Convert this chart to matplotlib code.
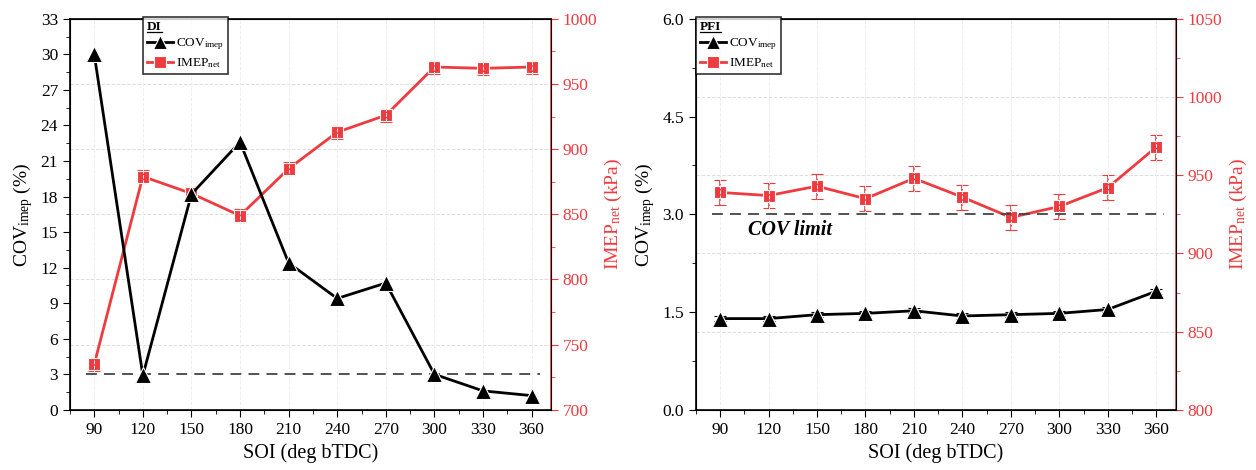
import numpy as np
import matplotlib.pyplot as plt
from matplotlib.ticker import MultipleLocator
from matplotlib.lines import Line2D

plt.rcParams['font.family'] = ['Liberation Serif', 'DejaVu Serif']
plt.rcParams['mathtext.fontset'] = 'custom'
plt.rcParams['mathtext.rm'] = 'Liberation Serif'
plt.rcParams['mathtext.it'] = 'Liberation Serif:italic'
plt.rcParams['mathtext.bf'] = 'Liberation Serif:bold'

RED = '#ee3b3f'

# угол начала впрыска
soi = [90, 120, 150, 180, 210, 240, 270, 300, 330, 360]

# DI: COV и IMEP
cov_di = [30.0, 2.9, 18.2, 22.6, 12.4, 9.4, 10.7, 3.0, 1.6, 1.2]
imep_di = [735, 879, 866, 849, 885, 913, 926, 963, 962, 963]
imep_di_err = [5, 5, 5, 5, 5, 5, 5, 5, 5, 5]

# PFI: COV и IMEP
cov_pfi = [1.40, 1.40, 1.46, 1.48, 1.52, 1.44, 1.46, 1.48, 1.54, 1.82]
cov_pfi_err = [0.04, 0.04, 0.04, 0.04, 0.04, 0.04, 0.04, 0.04, 0.04, 0.04]
imep_pfi = [939, 937, 943, 935, 948, 936, 923, 930, 942, 968]
imep_pfi_err = [8, 8, 8, 8, 8, 8, 8, 8, 8, 8]

cov_limit = 3.0

fig = plt.figure(figsize=(12.56, 4.70), dpi=100)
ax1 = fig.add_axes([0.0557, 0.128, 0.383, 0.832])
ax2 = fig.add_axes([0.554, 0.128, 0.382, 0.832])

cov_style = dict(color='black', marker='^', markeredgecolor='white', markeredgewidth=0.8, linewidth=2)
imep_style = dict(color=RED, marker='s', markeredgecolor='white', markeredgewidth=0.8, linewidth=2)


def panel(ax, cov, cov_err, imep, imep_err, ylim, ystep, rlim, rstep, title, leg_x):
    axr = ax.twinx()
    axr.errorbar(soi, imep, yerr=imep_err, markersize=9, capsize=4.5,
                 elinewidth=1.2, capthick=1.2, zorder=3, **imep_style)
    ax.errorbar(soi, cov, yerr=cov_err, markersize=11, capsize=4.5,
                elinewidth=1.2, capthick=1.2, zorder=4, **cov_style)
    ax.set_zorder(axr.get_zorder() + 1)
    ax.patch.set_visible(False)

    ax.plot([85, 365], [cov_limit, cov_limit], color='#444444', linewidth=1.3,
            dashes=(6, 4))

    ax.set_xlim(75, 372)
    ax.set_ylim(*ylim)
    axr.set_ylim(*rlim)
    ax.set_xticks(soi)
    ax.xaxis.set_minor_locator(MultipleLocator(15))
    ax.yaxis.set_major_locator(MultipleLocator(ystep))
    ax.yaxis.set_minor_locator(MultipleLocator(ystep / 2))
    axr.yaxis.set_major_locator(MultipleLocator(rstep))
    axr.yaxis.set_minor_locator(MultipleLocator(rstep / 2))

    # сетка по правой оси и по x
    axr.grid(True, axis='y', color='#dddddd', linestyle='--', linewidth=0.7)
    ax.grid(True, axis='x', color='#eeeeee', linestyle='--', linewidth=0.7)

    ax.tick_params(which='both', direction='out', labelsize=12.5)
    ax.tick_params(which='major', length=5)
    ax.tick_params(which='minor', length=3)
    axr.tick_params(which='both', direction='out', colors=RED, labelsize=12.5)
    axr.tick_params(which='major', length=5)
    axr.tick_params(which='minor', length=3)
    axr.spines['right'].set_color(RED)
    for s in ['left', 'top', 'bottom']:
        ax.spines[s].set_linewidth(1.2)
    axr.spines['right'].set_linewidth(1.2)

    ax.set_xlabel('SOI (deg bTDC)', fontsize=14.5)
    ax.set_ylabel('COV$_{\\mathregular{imep}}$ (%)', fontsize=14)
    axr.set_ylabel('IMEP$_{\\mathregular{net}}$ (kPa)', fontsize=14, color=RED)

    # легенда без усов погрешности
    handles = [Line2D([], [], markersize=9.5, **cov_style),
               Line2D([], [], markersize=8, **imep_style)]
    labels = ['COV$_{\\mathregular{imep}}$', 'IMEP$_{\\mathregular{net}}$']
    leg = ax.legend(handles, labels, title=title, loc='upper left',
                    bbox_to_anchor=(leg_x, 1.005),
                    fontsize=9.5, title_fontproperties={'weight': 'bold', 'size': 9.5},
                    alignment='left', frameon=True, fancybox=False, edgecolor='black',
                    handlelength=2.0, handletextpad=0.2, borderpad=0.3,
                    labelspacing=0.3, borderaxespad=0.0)
    leg.get_frame().set_linewidth(1.2)
    leg.set_zorder(10)
    return leg


leg1 = panel(ax1, cov_di, None, imep_di, imep_di_err, (0, 33), 3, (700, 1000), 50, 'DI', 0.152)
leg2 = panel(ax2, cov_pfi, cov_pfi_err, imep_pfi, imep_pfi_err, (0, 6), 1.5, (800, 1050), 50, 'PFI', 0.0)
ax2.yaxis.set_major_formatter(plt.FormatStrFormatter('%.1f'))
ax2.text(107, 2.76, 'COV limit', fontsize=14.5, fontweight='bold', fontstyle='italic',
         ha='left', va='center')

# подчёркивание заголовков легенд
fig.canvas.draw()
r = fig.canvas.get_renderer()
for leg in (leg1, leg2):
    bb = leg.get_title().get_window_extent(r).transformed(fig.transFigure.inverted())
    y = bb.y0 + 0.002
    fig.add_artist(Line2D([bb.x0, bb.x1], [y, y], color='black', linewidth=0.9,
                          transform=fig.transFigure, zorder=20))

fig.savefig('out.png', dpi=100)
